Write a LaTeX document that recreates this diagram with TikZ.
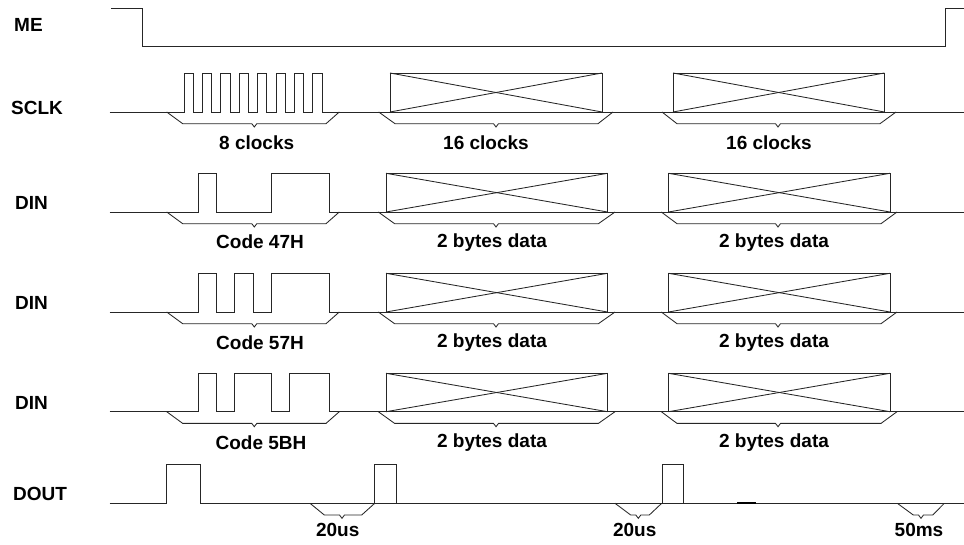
\documentclass[tikz,border=0pt]{standalone}
\usepackage{fontspec}
\setmainfont{Liberation Sans}
\usepackage{tikz}
\usetikzlibrary{calc}

\tikzset{
  sig/.style={line width=0.85pt, black!85, line join=miter},
  txt/.style={font=\fontsize{19}{19}\selectfont\bfseries, inner sep=0pt, anchor=base},
  sigName/.style={txt, anchor=base west}
}

% under-brace: y, then the five x values of its corners
\newcommand{\under}[6]{
  \draw[sig] (#2,#1) -- (#3,#1+11.7) -- (#4-2.5,#1+11.7) -- (#4,#1+15) -- (#4+2.5,#1+11.7) -- (#5,#1+11.7) -- (#6,#1);
}
% crossed box: x left, x right, y top, y bottom
\newcommand{\xbox}[4]{
  \draw[sig] (#1,#3) rectangle (#2,#4);
  \draw[sig] (#1,#3) -- (#2,#4);
  \draw[sig] (#1,#4) -- (#2,#3);
}

\begin{document}
\begin{tikzpicture}[x=1pt,y=-1pt]
  \useasboundingbox (0,0) rectangle (964,545);
  % signal names
  \node[sigName] (me) at (14,32) {ME};
  \node[sigName] (sclk) at (11,114.5) {SCLK};
  \node[sigName] (dinA) at (15,209.3) {DIN};
  \node[sigName] (dinB) at (15,309.3) {DIN};
  \node[sigName] (dinC) at (15,409) {DIN};
  \node[sigName] (dout) at (13,500) {DOUT};
  % ME
  \draw[sig] (111,8) -- (142,8) -- (142,46) -- (945,46) -- (945,8) -- (964,8);
  % SCLK
  \draw[sig] (109.5,112)
    \foreach \r in {184,202.4,220.8,239.2,257.6,276,294.4,312.8} {
      -- (\r,112) -- (\r,73) -- (\r+9.3,73) -- (\r+9.3,112)
    } -- (964,112);
  \under{112}{166.7}{182.7}{254.3}{326}{339.3}
  \xbox{390}{602}{73}{112}
  \under{112}{378.7}{395}{496}{598}{613}
  \xbox{673}{884.4}{73}{112}
  \under{112}{662}{677}{778}{880}{896}
  \node[txt] (lbA) at (256.7,149.5) {8 clocks};
  \node[txt] (lbB) at (486,149.5) {16 clocks};
  \node[txt] (lbC) at (769,149.5) {16 clocks};
  % DIN rows, same frame each time
  \foreach \y/\t/\p in {212/173.3/{198/216.3,271.7/329},
                        312/273.3/{198/216.3,234.7/253.3,271.7/329},
                        411.7/373.3/{198/216.3,234.7/271.7,289.7/329}} {
    \draw[sig] (109.5,\y)
      \foreach \a/\b in \p {
        -- (\a,\y) -- (\a,\t) -- (\b,\t) -- (\b,\y)
      } -- (964,\y);
    \under{\y}{166.7}{182.7}{254.3}{326}{339.3}
    \xbox{386}{607.5}{\t}{\y}
    \under{\y}{378.3}{394.6}{496}{598.4}{615}
    \xbox{668.5}{890}{\t}{\y}
    \under{\y}{661.3}{677}{778}{881}{897}
  }
  \node[txt] (lbD) at (260,249) {Code 47H};
  \node[txt] (lbE) at (492,248) {2 bytes data};
  \node[txt] (lbF) at (774,248) {2 bytes data};
  \node[txt] (lbG) at (260,349.3) {Code 57H};
  \node[txt] (lbH) at (492,348) {2 bytes data};
  \node[txt] (lbI) at (774,348) {2 bytes data};
  \node[txt] (lbJ) at (261,449) {Code 5BH};
  \node[txt] (lbK) at (492,447.3) {2 bytes data};
  \node[txt] (lbL) at (774,447.3) {2 bytes data};
  % DOUT
  \draw[sig] (109.5,503.3) -- (166.7,503.3) -- (166.7,464.3) -- (200,464.3) -- (200,503.3) -- (964,503.3);
  \foreach \a/\b in {374.7/396,662.3/683.7}
    \draw[sig] (\a,503.3) -- (\a,464.3) -- (\b,464.3) -- (\b,503.3);
  \draw[line width=1.7pt] (737.3,503.3) -- (756,503.3);
  \under{503.3}{310}{324.3}{342}{361.7}{374.7}
  \under{503.3}{615}{630.7}{638.3}{649.3}{661.7}
  \under{503.3}{897.3}{913.3}{921}{932.7}{944.3}
  \node[txt] (lbM) at (337.7,536.7) {20us};
  \node[txt] (lbN) at (634.7,536.7) {20us};
  \node[txt] (lbO) at (919,536.7) {50ms};
\end{tikzpicture}
\end{document}
